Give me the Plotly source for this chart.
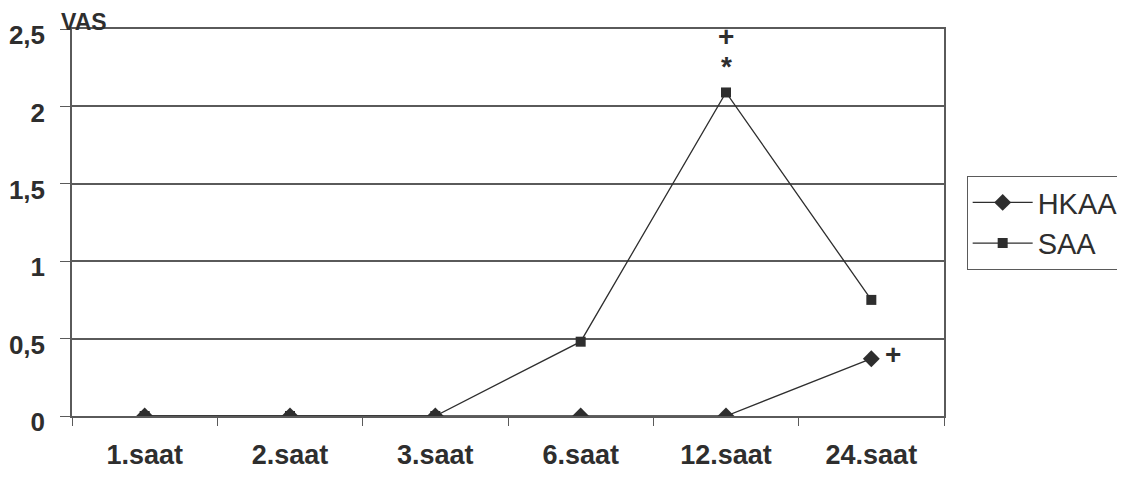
import plotly.graph_objects as go

categories = ["1.saat", "2.saat", "3.saat", "6.saat", "12.saat", "24.saat"]
hkaa = [0, 0, 0, 0, 0, 0.37]
saa = [0, 0, 0, 0.48, 2.09, 0.75]
y_ticks = [0, 0.5, 1, 1.5, 2, 2.5]
y_ticklabels = ["0", "0,5", "1", "1,5", "2", "2,5"]

ink = "#2e2e2e"
axis_grey = "#5a5a5a"
fam = "Liberation Sans"

fig = go.Figure()
fig.add_trace(go.Scatter(
    x=categories, y=hkaa, name="HKAA", mode="lines+markers",
    line=dict(color=ink, width=1.3),
    marker=dict(symbol="diamond", size=13, color=ink),
))
fig.add_trace(go.Scatter(
    x=categories, y=saa, name="SAA", mode="lines+markers",
    line=dict(color=ink, width=1.3),
    marker=dict(symbol="square", size=10, color=ink),
))

mark_font = dict(size=28, color=ink, family=fam, weight="bold")
fig.add_annotation(x="12.saat", y=2.45, text="+", showarrow=False, font=mark_font)
fig.add_annotation(x="12.saat", y=2.27, text="*", showarrow=False, font=mark_font, yshift=-2)
fig.add_annotation(x="24.saat", y=hkaa[5], text="+", showarrow=False, font=mark_font,
                   xshift=22, yshift=4)
fig.add_annotation(xref="paper", yref="paper", x=-0.015, y=1.018, yanchor="middle",
                   xanchor="left", text="VAS", showarrow=False,
                   font=dict(size=23, color=ink, family=fam, weight="bold"))

# page body has an 8px margin, so the margins are offset to keep the plot in place
fig.update_layout(
    width=1125, height=479,
    margin=dict(l=64, r=189, t=21, b=71, autoexpand=False),
    paper_bgcolor="white", plot_bgcolor="white",
    font=dict(family=fam, color=ink, size=27, weight="bold"),
    showlegend=True,
    legend=dict(x=1.026, y=0.62, xanchor="left", yanchor="top",
                bordercolor=axis_grey, borderwidth=1, bgcolor="white",
                font=dict(size=29, color=ink, weight="normal"), tracegroupgap=0,
                itemwidth=60),
    xaxis=dict(
        type="category", range=[-0.5, 5.5], showgrid=False,
        showline=True, mirror=True, linecolor=axis_grey, linewidth=2,
        ticks="outside", tickson="boundaries", ticklen=8, tickcolor=axis_grey,
        tickfont=dict(size=27), zeroline=False, automargin=False,
        ticklabelstandoff=14,
    ),
    yaxis=dict(
        range=[0, 2.5], tickvals=y_ticks, ticktext=y_ticklabels,
        showgrid=True, gridcolor=axis_grey, gridwidth=1.5,
        showline=True, mirror=True, linecolor=axis_grey, linewidth=1.5,
        ticks="outside", ticklen=10, tickcolor=axis_grey,
        tickfont=dict(size=26), zeroline=False, ticklabelstandoff=10,
        ticklabelshift=6, automargin=False,
    ),
)

fig.write_html("out.html")
